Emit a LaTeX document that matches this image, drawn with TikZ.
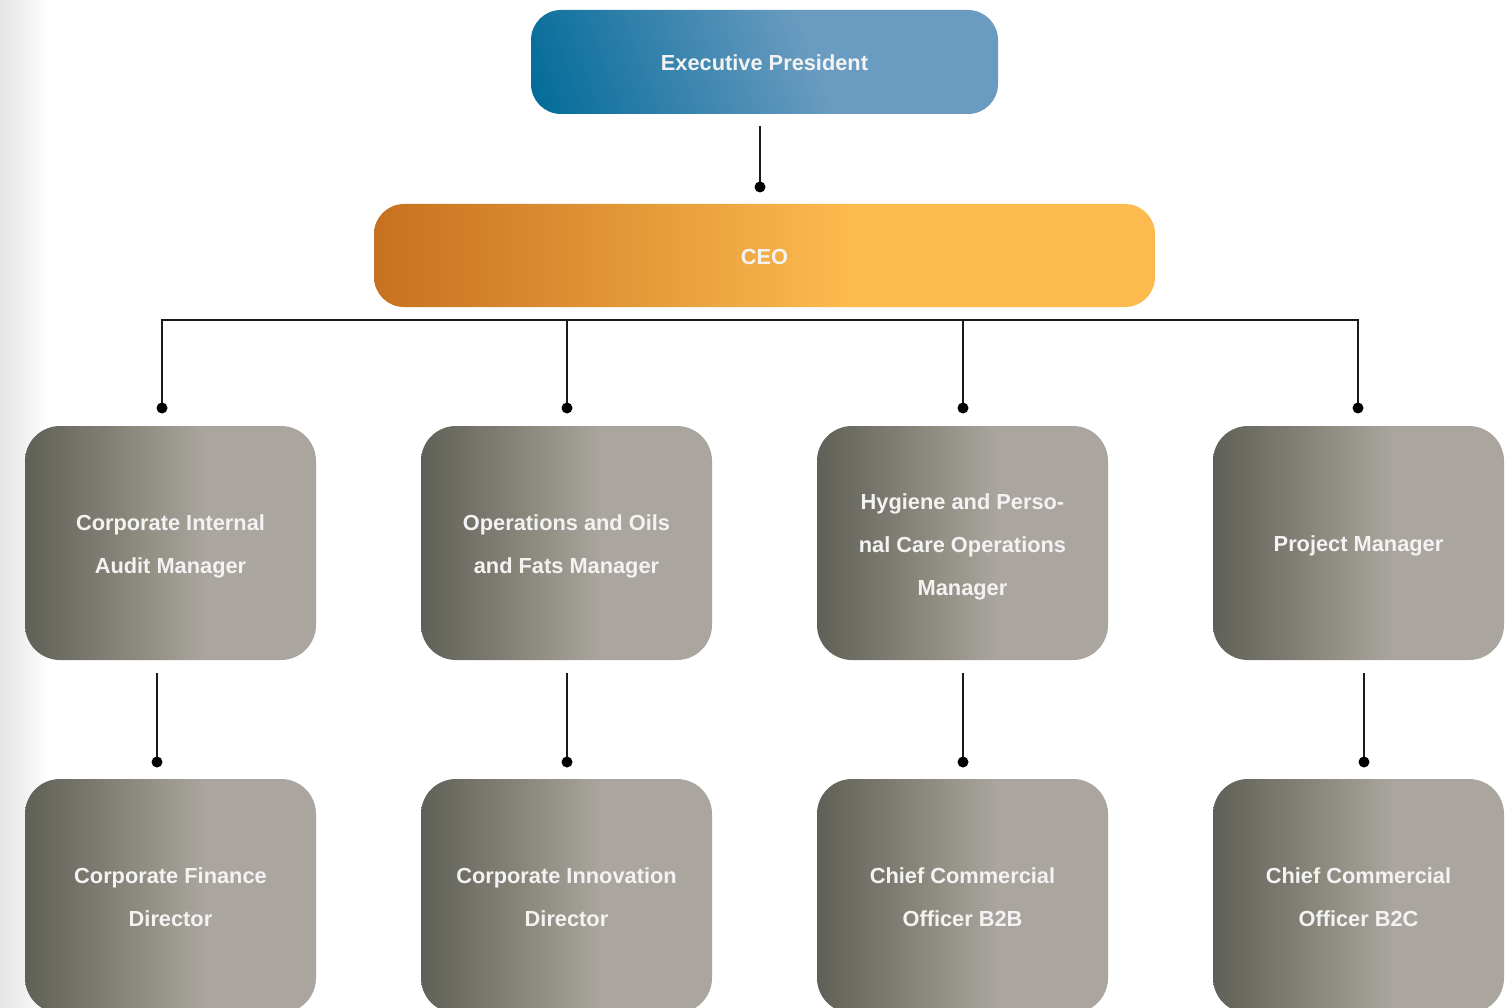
\documentclass[tikz,border=0pt]{standalone}
\usepackage{fontspec}
\setmainfont{Liberation Sans}
\usetikzlibrary{calc}
\definecolor{bdark}{HTML}{006A98}
\definecolor{blight}{HTML}{6A9BC0}
\definecolor{odark}{HTML}{C6711F}
\definecolor{olight}{HTML}{FDBA4E}
\definecolor{g0}{HTML}{5F6057}
\definecolor{g1}{HTML}{77756C}
\definecolor{g2}{HTML}{8F8C81}
\definecolor{g3}{HTML}{AAA69F}
\definecolor{txt}{HTML}{F3F3F3}
\definecolor{edge}{HTML}{E6E6E6}
\definecolor{wire}{HTML}{1A1A1A}
\pgfdeclarehorizontalshading{bluesh}{100bp}{color(0bp)=(bdark); color(30bp)=(bdark); color(54bp)=(blight); color(100bp)=(blight)}
\pgfdeclarehorizontalshading{orangesh}{100bp}{color(0bp)=(odark); color(25bp)=(odark); color(55.5bp)=(olight); color(100bp)=(olight)}
\pgfdeclarehorizontalshading{graysh}{100bp}{color(0bp)=(g0); color(25bp)=(g0); color(35bp)=(g1); color(45bp)=(g2); color(56bp)=(g3); color(100bp)=(g3)}
\pgfdeclarehorizontalshading{edgesh}{100bp}{color(0bp)=(edge); color(25bp)=(edge); color(45bp)=(edge!70!white); color(75bp)=(white); color(100bp)=(white)}
\tikzset{
  lbl/.style={text=txt, font=\fontsize{21.8}{43}\selectfont\bfseries, align=center, inner sep=0pt},
  graybox/.style={shading=graysh, rounded corners=35pt, minimum width=291pt, minimum height=234pt, inner sep=0pt},
  ceobox/.style={shading=orangesh, rounded corners=30pt, minimum width=781pt, minimum height=103pt, inner sep=0pt},
  epbox/.style={rounded corners=30pt, minimum width=467pt, minimum height=104pt, inner sep=0pt},
  wireline/.style={draw=wire, line width=1.3pt},
  dotmark/.style={fill=black},
}
\begin{document}
\begin{tikzpicture}[x=1pt, y=-1pt]
\useasboundingbox (0,0) rectangle (1512,1008);
\clip (0,0) rectangle (1512,1008);
\fill[white] (0,0) rectangle (1512,1008);
\shade[shading=edgesh] (0,0) rectangle (48,1008);

% Executive President (diagonal shading)
\begin{scope}
  \clip[rounded corners=30pt] (531,10) rectangle (998,114);
  \shade[shading=bluesh, shading angle=20] (464.5,-238) rectangle (1064.5,362);
\end{scope}
\node[epbox] (ep) at (764.5,62) {};
\node[lbl] (ept) at ($(ep.center)+(0,1)$) {Executive President};

% CEO
\node[ceobox] (ceo) at (764.5,255.5) {};
\node[lbl] (ceot) at ($(ceo.center)+(0,1.5)$) {CEO};

% Middle row
\node[graybox] (m1) at (170.5,543) {};
\node[graybox] (m2) at (566.5,543) {};
\node[graybox] (m3) at (962.5,543) {};
\node[graybox] (m4) at (1358.5,543) {};
\node[lbl] (m1t) at ($(m1.center)+(0,3.5)$) {Corporate Internal\\Audit Manager};
\node[lbl] (m2t) at ($(m2.center)+(0,3.5)$) {Operations and Oils\\and Fats Manager};
\node[lbl] (m3t) at ($(m3.center)+(0,3.5)$) {Hygiene and Perso-\\nal Care Operations\\Manager};
\node[lbl] (m4t) at ($(m4.center)+(0,3)$) {Project Manager};

% Bottom row
\node[graybox] (b1) at (170.5,896) {};
\node[graybox] (b2) at (566.5,896) {};
\node[graybox] (b3) at (962.5,896) {};
\node[graybox] (b4) at (1358.5,896) {};
\node[lbl] (b1t) at ($(b1.center)+(0,1.2)$) {Corporate Finance\\Director};
\node[lbl] (b2t) at ($(b2.center)+(0,1.2)$) {Corporate Innovation\\Director};
\node[lbl] (b3t) at ($(b3.center)+(0,1.2)$) {Chief Commercial\\Officer B2B};
\node[lbl] (b4t) at ($(b4.center)+(0,1.2)$) {Chief Commercial\\Officer B2C};

% Connector coordinates
\coordinate (e0) at (760,126);
\coordinate (e1) at (760,187);
\coordinate (h1) at (162,320);
\coordinate (h2) at (567,320);
\coordinate (h3) at (963,320);
\coordinate (h4) at (1358,320);
\coordinate (t1) at (162,408);
\coordinate (t2) at (567,408);
\coordinate (t3) at (963,408);
\coordinate (t4) at (1358,408);
\coordinate (u1) at (157,673);
\coordinate (u2) at (567,673);
\coordinate (u3) at (963,673);
\coordinate (u4) at (1364,673);
\coordinate (v1) at (157,762);
\coordinate (v2) at (567,762);
\coordinate (v3) at (963,762);
\coordinate (v4) at (1364,762);

\draw[wireline] (e0) -- (e1);
\draw[wireline] (t1) -- (h1) -- (h4) -- (t4);
\draw[wireline] (h2) -- (t2);
\draw[wireline] (h3) -- (t3);
\foreach \i in {1,2,3,4} {\draw[wireline] (u\i) -- (v\i);}
\foreach \c in {e1,t1,t2,t3,t4,v1,v2,v3,v4} {\fill[dotmark] (\c) circle (5.5);}
\end{tikzpicture}
\end{document}
